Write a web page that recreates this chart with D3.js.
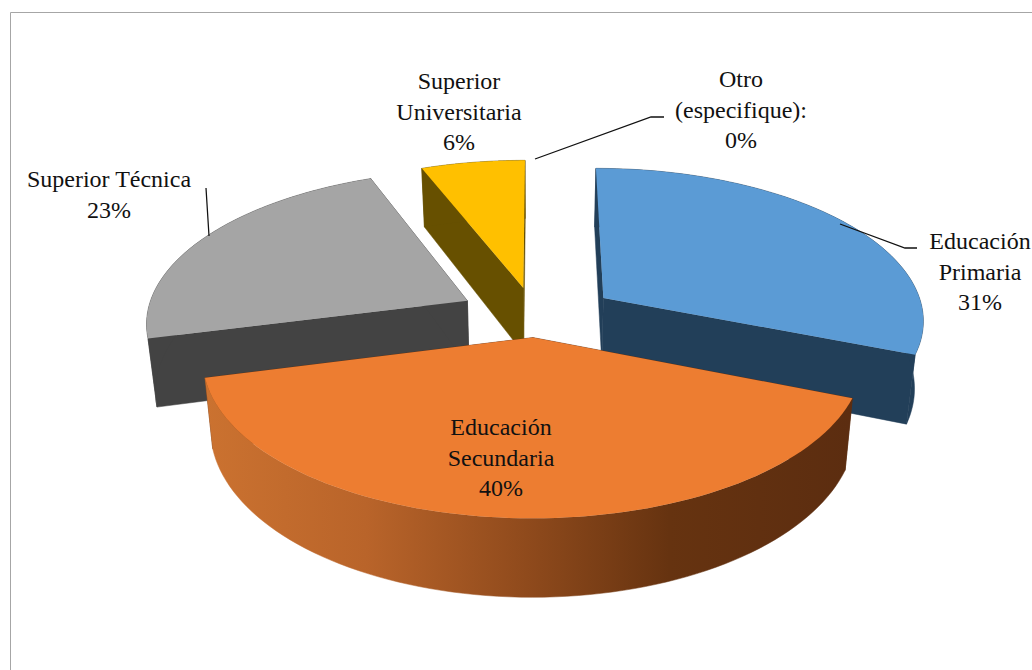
<!DOCTYPE html>
<html><head><meta charset="utf-8">
<script src="https://d3js.org/d3.v7.min.js"></script>
<style>html,body{margin:0;padding:0;background:#fff;overflow:hidden}svg{display:block}text{font-family:"Liberation Serif","Times New Roman",serif;font-size:24px;fill:#111}</style>
</head><body><div id="chart"></div>
<script>
const categories = ["Educación Primaria","Educación Secundaria","Superior Técnica","Superior Universitaria","Otro (especifique):"];
const values = [31,40,23,6,0];
const percentLabels = ["31%","40%","23%","6%","0%"];
const topColors = ["#5b9bd5","#ed7d31","#a5a5a5","#ffc000"];
const wallColors = ["#223f59","#5f2f10","#434343","#675000"];
const labelLines = [["Educación","Primaria","31%"],["Educación","Secundaria","40%"],["Superior Técnica","23%"],["Superior","Universitaria","6%"],["Otro","(especifique):","0%"]];
const labelAnchors = [[980,249],[501,435],[109,187],[459,89],[741,87]];
const leaders = [[[840,224],[905,248],[917,248]],null,[[206,188],[209,236]],null,[[535,159],[651,117],[664,117]]];
const paintOrder = [3,2,0,1];

const W=1032,H=670;
const cx=538,cy=312,A=320,B=150,k=0.13,ex=0.25,ey=0.167,depth=67,shrink=0.977;
const svg=d3.select("#chart").append("svg").attr("width",W).attr("height",H);
const defs=svg.append("defs");
const grad=defs.append("linearGradient").attr("id","rim").attr("gradientUnits","userSpaceOnUse")
  .attr("x1",205).attr("x2",850).attr("y1",0).attr("y2",0);
[[0,"#cb7230"],[0.25,"#b9642a"],[0.5,"#8f4a1c"],[0.72,"#663310"],[1,"#5c2d10"]].forEach(s=>grad.append("stop").attr("offset",s[0]).attr("stop-color",s[1]));

svg.append("path").attr("d",`M10.5,${H}V12.5H${W}`).attr("fill","none").attr("stroke","#a6a6a6").attr("stroke-width",1);

const arcs=d3.pie().sort(null).value(d=>d)(values);
function proj(theta,r,mid,low){
  const X=ex*Math.sin(mid)+r*Math.sin(theta), Y=ey*Math.cos(mid)+r*Math.cos(theta), w=1+k*Y;
  let x=A*X/w, y=-B*Y/w;
  if(low){x*=shrink;y+=depth/w;}
  return [cx+x,cy+y];
}
const line=d3.line().curve(d3.curveLinearClosed);
function rim(a,low){const n=80;const mid=(a.startAngle+a.endAngle)/2;
  return d3.range(n+1).map(i=>proj(a.startAngle+(a.endAngle-a.startAngle)*i/n,1,mid,low));}
function apex(a,low){return proj(0,0,(a.startAngle+a.endAngle)/2,low);}

paintOrder.forEach(i=>{
  const a=arcs[i],g=svg.append("g");
  const top=rim(a,false),bot=rim(a,true),ap=apex(a,false),apb=apex(a,true);
  const wall=wallColors[i];
  const walls=[[ap,top[0],bot[0],apb],[ap,top[top.length-1],bot[bot.length-1],apb]];
  walls.forEach(p=>g.append("path").attr("d",line(p)).attr("fill",wall).attr("stroke",wall).attr("stroke-width",0.5));
  const rimFill=i===1?"url(#rim)":wall;
  g.append("path").attr("d",line(top.concat(bot.slice().reverse()))).attr("fill",rimFill).attr("stroke",rimFill).attr("stroke-width",0.5);
  g.append("path").attr("d",line([ap].concat(top))).attr("fill",topColors[i]);
});

leaders.forEach(p=>{if(p)svg.append("path").attr("d",d3.line()(p)).attr("fill","none").attr("stroke","#111").attr("stroke-width",1.3);});

labelLines.forEach((lines,i)=>{
  const t=svg.append("text").attr("text-anchor","middle");
  lines.forEach((s,j)=>t.append("tspan").attr("x",labelAnchors[i][0]).attr("y",labelAnchors[i][1]+j*30.7).text(s));
});
</script></body></html>
